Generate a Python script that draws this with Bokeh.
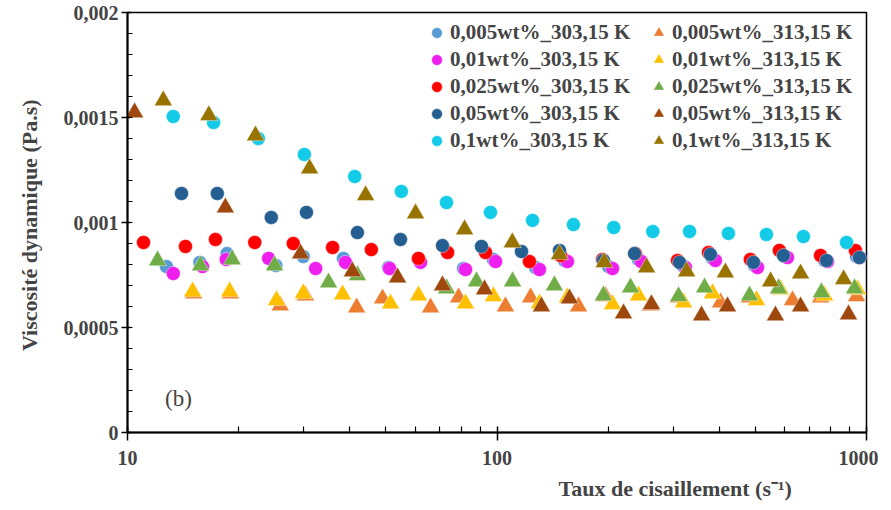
from bokeh.plotting import figure
from bokeh.models import FixedTicker, CustomJSTickFormatter, Legend, LegendItem, Label, Title
from bokeh.embed import file_html
from bokeh.resources import INLINE

# ---- data (shear rate s^-1, viscosity Pa.s) ----
lb_x = [12.75, 15.7, 18.6, 25.2, 29.9, 38.4, 50.9, 61.3, 81.2, 97.8, 127.2, 152.3, 200.4, 241.5, 317.7, 383, 497.8, 600, 770, 939.7]
lb_y = [0.00079, 0.00081, 0.000852, 0.000795, 0.000838, 0.000829, 0.000786, 0.000824, 0.000781, 0.000824,
        0.000786, 0.000819, 0.00079, 0.000824, 0.000795, 0.000829, 0.000795, 0.000838, 0.000819, 0.000838]

mg_x = [13.3, 15.96, 18.5, 24.1, 32.3, 38.9, 51.2, 62.1, 82.2, 99.1, 130.3, 155.1, 205.4, 246, 323.6, 390, 507, 611, 784.5, 957]
mg_y = [0.000757, 0.00079, 0.000824, 0.000829, 0.000781, 0.00081, 0.000781, 0.00081, 0.000776, 0.000814,
        0.000776, 0.000814, 0.000781, 0.000814, 0.000786, 0.000819, 0.000786, 0.000833, 0.000814, 0.000833]

rd_x = [11.05, 14.35, 17.3, 22.1, 28.1, 35.9, 45.7, 61.3, 73.5, 93.1, 122.4, 148.6, 193, 237, 308, 373.6, 485, 581, 751, 933]
rd_y = [0.000905, 0.000886, 0.000919, 0.000905, 0.0009, 0.000881, 0.000871, 0.000829, 0.000857, 0.000857,
        0.000814, 0.000843, 0.000824, 0.000852, 0.000819, 0.000857, 0.000824, 0.000867, 0.000843, 0.000867]

db_x = [14.0, 17.5, 24.5, 30.5, 41.9, 54.8, 71.2, 90.8, 116.5, 147.6, 194, 235.6, 311.8, 378, 494.6, 596, 779.5, 957]
db_y = [0.001138, 0.001138, 0.001024, 0.001048, 0.000952, 0.000919, 0.00089, 0.000886, 0.000862, 0.000867,
        0.000819, 0.000852, 0.00081, 0.000848, 0.00081, 0.000843, 0.000819, 0.000833]

cy_x = [13.3, 17.1, 22.6, 30.1, 41.2, 55.1, 73.0, 96.0, 124.8, 161, 207, 264, 332, 423, 536, 675, 883]
cy_y = [0.001505, 0.001476, 0.0014, 0.001324, 0.001219, 0.001148, 0.001095, 0.001048, 0.00101, 0.00099,
        0.000976, 0.000957, 0.000957, 0.000948, 0.000943, 0.000933, 0.000905]

or_x = [15.1, 19.0, 25.9, 30.3, 41.7, 49.0, 66.1, 78.7, 105.4, 123.3, 166.2, 196.6, 260.3, 310, 402.6, 482.5, 630.6, 751, 940]
or_y = [0.000662, 0.000662, 0.000605, 0.000652, 0.000595, 0.000638, 0.000595, 0.000643, 0.0006, 0.000643,
        0.0006, 0.000648, 0.000605, 0.000643, 0.000619, 0.000643, 0.000629, 0.000643, 0.000648]

ye_x = [15.0, 18.9, 25.3, 29.9, 38.2, 51.5, 61.3, 82.2, 97.8, 130.3, 155.1, 205.4, 241.5, 319.7, 383, 504, 585, 770, 945]
ye_y = [0.000671, 0.000671, 0.000629, 0.000662, 0.000657, 0.000614, 0.000652, 0.000614, 0.000648, 0.000614,
        0.000643, 0.00061, 0.000652, 0.000619, 0.000662, 0.000629, 0.000681, 0.000652, 0.000681]

gr_x = [12.06, 15.76, 19.2, 25.0, 35.0, 41.9, 53.8, 73.0, 88.0, 110.2, 143, 194, 229.8, 310, 364.5, 482.5, 578, 755, 928]
gr_y = [0.000819, 0.000795, 0.000824, 0.000795, 0.000714, 0.000748, 0.000738, 0.000686, 0.000719, 0.000719,
        0.0007, 0.000652, 0.00069, 0.000648, 0.00069, 0.000652, 0.000686, 0.000667, 0.000686]

br_x = [10.45, 18.4, 29.4, 40.6, 53.8, 71.2, 92.5, 131.9, 157.1, 220, 261.9, 357.7, 420.5, 567, 663, 894]
br_y = [0.001524, 0.001071, 0.000852, 0.000767, 0.000738, 0.0007, 0.000681, 0.0006, 0.000638, 0.000567,
        0.00061, 0.000557, 0.0006, 0.000557, 0.0006, 0.000562]

ol_x = [12.5, 16.6, 22.2, 31.1, 44.1, 60.2, 81.7, 110, 147.6, 195, 254, 326, 415, 550, 663, 867]
ol_y = [0.001581, 0.00151, 0.001414, 0.001257, 0.001129, 0.001043, 0.000967, 0.000905, 0.000848, 0.00081,
        0.000786, 0.000767, 0.000762, 0.000719, 0.000757, 0.000729]

y_ticks = [0, 0.0005, 0.001, 0.0015, 0.002]
y_minor = [0.0001 * i for i in range(1, 20)]
x_ticks = [10, 100, 1000]
x_minor = [20, 30, 40, 50, 60, 70, 80, 90, 200, 300, 400, 500, 600, 700, 800, 900]

FONT = "Liberation Serif"

p = figure(width=878, height=510, x_axis_type="log", x_range=(10, 1000), y_range=(0, 0.002),
           output_backend="svg", toolbar_location=None,
           min_border_left=127, min_border_right=12, min_border_top=12, min_border_bottom=78)

p.xgrid.visible = False
p.ygrid.visible = False
p.outline_line_color = "black"
p.outline_line_width = 1.5

# series in drawing order: (label, x, y, marker, color)
series = [
    ("0,005wt%_303,15 K", lb_x, lb_y, "circle", "#5B9BD5"),
    ("0,005wt%_313,15 K", or_x, or_y, "triangle", "#ED7D31"),
    ("0,01wt%_303,15 K", mg_x, mg_y, "circle", "#EE1EEE"),
    ("0,01wt%_313,15 K", ye_x, ye_y, "triangle", "#FFC000"),
    ("0,025wt%_303,15 K", rd_x, rd_y, "circle", "#FF0000"),
    ("0,025wt%_313,15 K", gr_x, gr_y, "triangle", "#70AD47"),
    ("0,05wt%_303,15 K", db_x, db_y, "circle", "#255E91"),
    ("0,05wt%_313,15 K", br_x, br_y, "triangle", "#9E480E"),
    ("0,1wt%_303,15 K", cy_x, cy_y, "circle", "#13CBE6"),
    ("0,1wt%_313,15 K", ol_x, ol_y, "triangle", "#997300"),
]

left_items, right_items = [], []
for label, xs, ys, marker, color in series:
    size = 14 if marker == "circle" else 18
    r = p.scatter(xs, ys, marker=marker, size=size, fill_color=color, line_color="white",
                  line_width=0.6, line_alpha=0.7)
    item = LegendItem(label=label, renderers=[r])
    (left_items if marker == "circle" else right_items).append(item)

for items, lx in ((left_items, 296), (right_items, 518)):
    lg = Legend(items=items, location=(lx, 278), orientation="vertical",
                glyph_width=27, glyph_height=27, label_height=27, spacing=0,
                label_standoff=0, padding=0, margin=0,
                border_line_color=None, background_fill_alpha=0,
                label_text_font=FONT, label_text_font_style="bold", label_text_font_size="21px")
    p.add_layout(lg)

# axes
yax = p.yaxis[0]
yax.ticker = FixedTicker(ticks=y_ticks, minor_ticks=y_minor)
yax.formatter = CustomJSTickFormatter(code="return tick.toString().replace('.', ',');")
yax.axis_label = "Viscosité dynamique  (Pa.s)"
yax.axis_label_text_font = FONT
yax.axis_label_text_font_style = "bold"
yax.axis_label_text_font_size = "22px"
yax.axis_label_standoff = 19
yax.major_label_text_font = FONT
yax.major_label_text_font_style = "bold"
yax.major_label_text_font_size = "20px"
yax.major_label_standoff = 3
yax.axis_line_width = 2
yax.major_tick_in = 3
yax.major_tick_out = 6
yax.minor_tick_in = 5
yax.minor_tick_out = 0
yax.major_tick_line_width = 1.5
yax.minor_tick_line_width = 1.2

xax = p.xaxis[0]
xax.ticker = FixedTicker(ticks=x_ticks, minor_ticks=x_minor)
xax.formatter = CustomJSTickFormatter(code="return Math.round(tick).toString();")
xax.major_label_text_font = FONT
xax.major_label_text_font_style = "bold"
xax.major_label_text_font_size = "20px"
xax.major_label_standoff = 10
xax.axis_line_width = 2
xax.major_tick_in = 6
xax.major_tick_out = 8
xax.minor_tick_in = 6
xax.minor_tick_out = 0
xax.major_tick_line_width = 1.5
xax.minor_tick_line_width = 1.2

p.add_layout(Title(text="Taux de cisaillement (s⁻¹)", align="left", offset=431, standoff=12,
                   text_font=FONT, text_font_style="bold", text_font_size="22px"), "below")
p.add_layout(Label(x=51, y=34, x_units="screen", y_units="screen", text="(b)",
                   text_align="center", text_baseline="middle", text_font=FONT,
                   text_font_size="23px"))

open("out.html", "w").write(file_html(p, INLINE))
